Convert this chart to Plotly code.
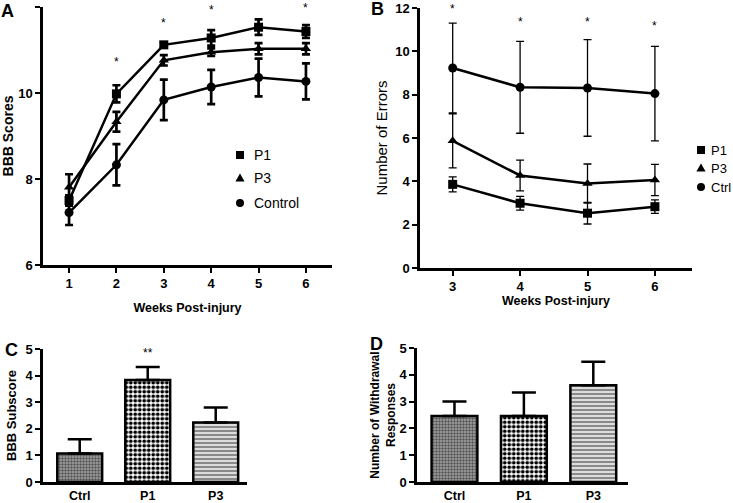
import plotly.graph_objects as go

FONT = "Arial, Liberation Sans, sans-serif"
W, H = 733, 503

# ---- Panel A data ----
weeks_a = [1, 2, 3, 4, 5, 6]
a_p1 = [7.50, 9.98, 11.12, 11.28, 11.53, 11.43]
a_p1_err = [0.12, 0.20, 0.06, 0.18, 0.18, 0.15]
a_p3 = [7.81, 9.33, 10.76, 10.95, 11.03, 11.03]
a_p3_err = [0.30, 0.23, 0.12, 0.09, 0.13, 0.13]
a_ctrl = [7.22, 8.33, 9.84, 10.14, 10.36, 10.27]
a_ctrl_err = [0.29, 0.48, 0.47, 0.40, 0.44, 0.42]
a_star_x = [2, 3, 4, 5, 6]
a_star_y = [10.72, 11.62, 11.92, 12.02, 11.98]
a_names = ["P1", "P3", "Control"]

# ---- Panel B data ----
weeks_b = [3, 4, 5, 6]
b_p1 = [3.86, 2.99, 2.53, 2.83]
b_p1_err = [0.35, 0.32, 0.50, 0.31]
b_p3 = [5.87, 4.27, 3.90, 4.06]
b_p3_err = [1.25, 0.71, 0.90, 0.72]
b_ctrl = [9.23, 8.34, 8.31, 8.05]
b_ctrl_err = [2.07, 2.12, 2.23, 2.18]
b_star_y = [11.95, 11.35, 11.35, 11.15]
b_names = ["P1", "P3", "Ctrl"]

# ---- Panel C / D data ----
groups = ["Ctrl", "P1", "P3"]
c_vals = [1.07, 3.83, 2.24]
c_err = [0.54, 0.49, 0.56]
d_vals = [2.46, 2.46, 3.61]
d_err = [0.54, 0.88, 0.88]
c_star = ["", "**", ""]
c_star_y = [0, 4.85, 0]

symbols = ["square", "triangle-up", "circle"]

fig = go.Figure()

# Panel A traces
for name, y, e, sym in zip(a_names, [a_p1, a_p3, a_ctrl],
                           [a_p1_err, a_p3_err, a_ctrl_err], symbols):
    fig.add_trace(go.Scatter(
        x=weeks_a, y=y, mode="lines+markers", xaxis="x", yaxis="y", name=name,
        line=dict(color="black", width=2.5),
        marker=dict(symbol=sym, size=9, color="black"),
        error_y=dict(type="data", array=e, color="black", thickness=2.7, width=4),
        showlegend=False, cliponaxis=False))

# Panel B traces
for name, y, e, sym in zip(b_names, [b_p1, b_p3, b_ctrl],
                           [b_p1_err, b_p3_err, b_ctrl_err], symbols):
    fig.add_trace(go.Scatter(
        x=weeks_b, y=y, mode="lines+markers", xaxis="x2", yaxis="y2", name=name,
        line=dict(color="black", width=2.5),
        marker=dict(symbol=sym, size=9, color="black"),
        error_y=dict(type="data", array=e, color="black", thickness=1.3, width=4),
        showlegend=False, cliponaxis=False))

patterns = [
    dict(shape=".", bgcolor="#a6a6a6", fgcolor="#555555", size=3, solidity=0.5),
    dict(shape=".", bgcolor="white", fgcolor="black", size=4.5, solidity=0.55),
    dict(shape="-", bgcolor="white", fgcolor="#8a8a8a", size=4, solidity=0.65),
]

# Panels C and D: one trace per group so each bar gets its own pattern
for xa, ya, vals, errs in [("x3", "y3", c_vals, c_err), ("x4", "y4", d_vals, d_err)]:
    for g, v, e, p in zip(groups, vals, errs, patterns):
        fig.add_trace(go.Bar(
            x=[g], y=[v], xaxis=xa, yaxis=ya, width=0.66, name=g,
            marker=dict(color=p["bgcolor"], line=dict(color="black", width=2.5),
                        pattern=dict(shape=p["shape"], bgcolor=p["bgcolor"],
                                     fgcolor=p["fgcolor"], size=p["size"],
                                     solidity=p["solidity"], fillmode="replace")),
            error_y=dict(type="data", symmetric=False, array=[e], arrayminus=[0],
                         color="black", thickness=2.5, width=12),
            showlegend=False))


def ax(**kw):
    d = dict(showline=True, linecolor="black", linewidth=2.5, ticks="outside",
             ticklen=5, tickwidth=2, tickcolor="black", showgrid=False, zeroline=False,
             automargin=False,
             tickfont=dict(family=FONT, size=13, color="black", weight="bold"))
    d.update(kw)
    return d


def T(text, size=12, bold=True, standoff=None):
    d = dict(text=text, font=dict(family=FONT, size=size, color="black",
                                  weight="bold" if bold else "normal"))
    if standoff is not None:
        d["standoff"] = standoff
    return d


annotations = []
for xv, yv in zip(a_star_x, a_star_y):
    annotations.append(dict(x=xv, y=yv, xref="x", yref="y", text="*", showarrow=False,
                            font=dict(family=FONT, size=12, color="black")))
for xv, yv in zip(weeks_b, b_star_y):
    annotations.append(dict(x=xv, y=yv, xref="x2", yref="y2", text="*", showarrow=False,
                            font=dict(family=FONT, size=12, color="black")))
for xv, s, yv in zip(groups, c_star, c_star_y):
    if s:
        annotations.append(dict(x=xv, y=yv, xref="x3", yref="y3", text=s, showarrow=False,
                                font=dict(family=FONT, size=12, color="black")))
for lab, px, py in [("A", 7, 11), ("B", 377, 9), ("C", 11, 350), ("D", 376, 344)]:
    annotations.append(dict(x=px / W, y=1 - py / H, xref="paper", yref="paper",
                            text=lab, showarrow=False, xanchor="center", yanchor="middle",
                            font=dict(family=FONT, size=18, color="black", weight="bold")))

# Legends drawn as key symbols + text (panel A inside plot, panel B at right edge)
shapes = []


def legend_symbol(sym, cx, cy, r):
    x0, x1 = (cx - r) / W, (cx + r) / W
    y0, y1 = 1 - (cy + r) / H, 1 - (cy - r) / H
    base = dict(xref="paper", yref="paper", fillcolor="black", line=dict(width=0))
    if sym == "square":
        return dict(type="rect", x0=x0, x1=x1, y0=y0, y1=y1, **base)
    if sym == "circle":
        return dict(type="circle", x0=x0, x1=x1, y0=y0, y1=y1, **base)
    rr = r * 1.15
    path = "M{:.5f},{:.5f} L{:.5f},{:.5f} L{:.5f},{:.5f} Z".format(
        (cx - rr) / W, 1 - (cy + rr * 0.75) / H,
        (cx + rr) / W, 1 - (cy + rr * 0.75) / H,
        cx / W, 1 - (cy - rr) / H)
    return dict(type="path", path=path, **base)


for names, sx, tx, ys, fs in [(a_names, 240, 252, [155, 178, 203], 14),
                              (b_names, 701, 709, [150, 168, 187], 13)]:
    for name, sym, yy in zip(names, symbols, ys):
        shapes.append(legend_symbol(sym, sx, yy, 4))
        annotations.append(dict(x=tx / W, y=1 - yy / H, xref="paper", yref="paper",
                                text=name, showarrow=False, xanchor="left",
                                yanchor="middle",
                                font=dict(family=FONT, size=fs, color="black")))

fig.update_layout(
    width=W, height=H, margin=dict(l=0, r=0, t=0, b=0),
    plot_bgcolor="white", paper_bgcolor="white",
    font=dict(family=FONT, color="black"),
    barmode="overlay", showlegend=False,
    xaxis=ax(domain=[43 / W, 332 / W], range=[0.45, 6.55],
             tickvals=weeks_a, title=T("Weeks Post-injury", 12.5, True, 13), anchor="y"),
    yaxis=ax(domain=[1 - 265 / H, 1 - 7 / H], range=[6, 12],
             tickvals=[6, 8, 10, 12], title=T("BBB Scores", 14, True, 8), anchor="x"),
    xaxis2=ax(domain=[420 / W, 692 / W], range=[2.515, 6.55],
              tickvals=weeks_b, title=T("Weeks Post-injury", 12.5, True, 2), anchor="y2"),
    yaxis2=ax(domain=[1 - 268 / H, 1 - 8 / H], range=[0, 12],
              tickvals=[0, 2, 4, 6, 8, 10, 12], title=T("Number of Errors", 15, False, 4),
              anchor="x2"),
    xaxis3=ax(domain=[43 / W, 247 / W], range=[-0.54, 2.46], anchor="y3", ticklen=0,
              tickfont=dict(family=FONT, size=12.5, color="black", weight="bold")),
    yaxis3=ax(domain=[1 - 482 / H, 1 - 349 / H], range=[0, 5],
              tickvals=[0, 1, 2, 3, 4, 5], title=T("BBB Subscore", 13, True, 6), anchor="x3"),
    xaxis4=ax(domain=[417 / W, 628 / W], range=[-0.54, 2.5], anchor="y4", ticklen=0,
              tickfont=dict(family=FONT, size=12.5, color="black", weight="bold")),
    yaxis4=ax(domain=[1 - 482 / H, 1 - 348 / H], range=[0, 5],
              tickvals=[0, 1, 2, 3, 4, 5],
              title=T("Number of Withdrawal<br>Responses", 12, True, 2), anchor="x4"),
    annotations=annotations,
    shapes=shapes,
)

fig.write_html("out.html",
               config={"displayModeBar": False},
               post_script="document.body.style.margin='0';"
                           "document.body.style.overflow='hidden';")
